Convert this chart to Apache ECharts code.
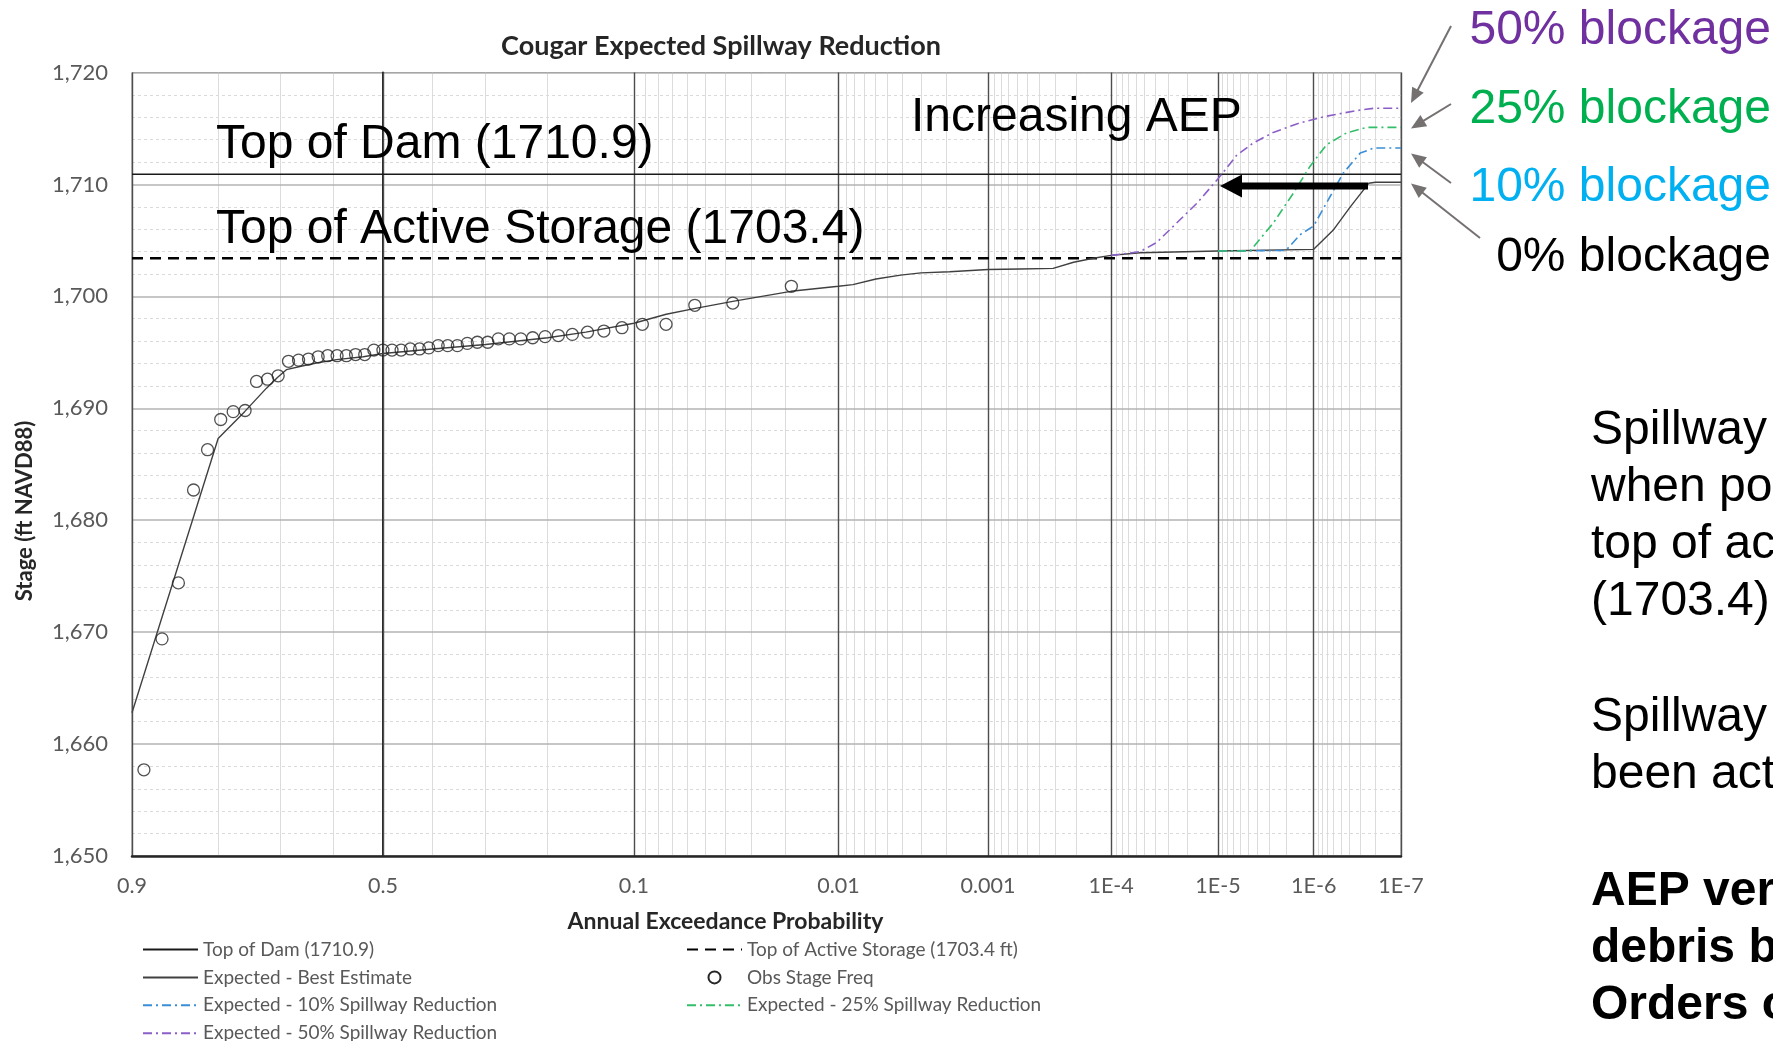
<!DOCTYPE html>
<html>
<head>
<meta charset="utf-8">
<title>Cougar Expected Spillway Reduction</title>
<script src="https://cdn.jsdelivr.net/npm/echarts@6/dist/echarts.min.js"></script>
<style>
  html, body { margin: 0; padding: 0; background: #ffffff; overflow: hidden; }
  #chart { width: 1773px; height: 1041px; }
</style>
</head>
<body>
<div id="chart"></div>
<script>
// ---- Axis definitions ----------------------------------------------------
const aepTicks = [0.9, 0.5, 0.1, 0.01, 0.001, 1e-4, 1e-5, 1e-6, 1e-7];
const aepTickLabels = ['0.9', '0.5', '0.1', '0.01', '0.001', '1E-4', '1E-5', '1E-6', '1E-7'];
const stageMin = 1650;
const stageMax = 1720;
const stageStep = 10;

// ---- Reference elevations (ft NAVD88) -------------------------------------
const topOfDam = 1710.9;
const topActiveStorage = 1703.4;

// ---- Expected stage-frequency curve, best estimate -----------------------
const bestAep = [0.9, 0.8, 0.76, 0.724, 0.704, 0.689, 0.658, 0.633, 0.594, 0.54,
  0.5, 0.4, 0.3, 0.2, 0.15, 0.1, 0.074, 0.056, 0.037, 0.0186,
  0.01, 0.0082, 0.0059, 0.0041, 0.003, 0.0019, 0.001, 5.7e-4, 3.1e-4, 2.1e-4,
  1.43e-4, 1e-4, 5.5e-5, 1e-5, 1e-6, 6.1e-7, 3.9e-7, 2.4e-7, 2e-7, 1e-7];
const bestStage = [1662.8, 1687.3, 1689.7, 1691.8, 1692.8, 1693.45, 1693.8, 1694.05, 1694.35, 1694.6,
  1694.9, 1695.3, 1695.7, 1696.3, 1696.8, 1697.6, 1698.4, 1698.9, 1699.55, 1700.45,
  1700.9, 1701.05, 1701.55, 1701.9, 1702.1, 1702.2, 1702.4, 1702.45, 1702.5, 1703.05,
  1703.4, 1703.66, 1703.9, 1704.05, 1704.2, 1705.9, 1708.0, 1710.1, 1710.2, 1710.2];

// ---- Spillway reduction scenarios ----------------------------------------
const red10Aep = [1e-5, 2e-6, 1.41e-6, 1e-6, 6.6e-7, 4.7e-7, 3e-7, 2.1e-7, 1e-7];
const red10Stage = [1704.05, 1704.1, 1705.5, 1706.3, 1708.9, 1711.0, 1712.8, 1713.25, 1713.25];

const red25Aep = [1e-5, 4.75e-6, 2.72e-6, 1.67e-6, 1.1e-6, 7.2e-7, 4.3e-7, 2.53e-7, 1e-7];
const red25Stage = [1704.05, 1704.05, 1706.55, 1709.2, 1711.6, 1713.55, 1714.6, 1715.1, 1715.1];

const red50Aep = [1e-4, 5.5e-5, 3.9e-5, 2.72e-5, 1.62e-5, 1e-5, 6.5e-6, 4.4e-6, 2.72e-6, 1.41e-6, 7.2e-7, 3.3e-7, 2.1e-7, 1e-7];
const red50Stage = [1703.66, 1704.0, 1704.8, 1706.25, 1708.3, 1710.5, 1712.6, 1713.7, 1714.65, 1715.5, 1716.1, 1716.6, 1716.8, 1716.8];

// ---- Observed annual peak stages (Weibull plotting positions) -------------
const obsAep = [0.8889, 0.8704, 0.8519, 0.8333, 0.8148, 0.7963, 0.7778, 0.7593, 0.7407, 0.7222,
  0.7037, 0.6852, 0.6667, 0.6481, 0.6296, 0.6111, 0.5926, 0.5741, 0.5556, 0.5370,
  0.5185, 0.5000, 0.4815, 0.4630, 0.4444, 0.4259, 0.4074, 0.3889, 0.3704, 0.3519,
  0.3333, 0.3148, 0.2963, 0.2778, 0.2593, 0.2407, 0.2222, 0.2037, 0.1852, 0.1667,
  0.1481, 0.1296, 0.1111, 0.0926, 0.0741, 0.0556, 0.0370, 0.0185];
const obsStage = [1657.7, 1669.4, 1674.4, 1682.7, 1686.3, 1689.0, 1689.7, 1689.8, 1692.4, 1692.6,
  1692.9, 1694.2, 1694.3, 1694.4, 1694.6, 1694.7, 1694.7, 1694.7, 1694.8, 1694.8,
  1695.2, 1695.2, 1695.2, 1695.2, 1695.3, 1695.3, 1695.4, 1695.6, 1695.6, 1695.6,
  1695.8, 1695.9, 1695.9, 1696.2, 1696.2, 1696.2, 1696.3, 1696.4, 1696.5, 1696.6,
  1696.8, 1696.9, 1697.2, 1697.5, 1697.5, 1699.2, 1699.4, 1700.9];

// ---- Normal probability scale --------------------------------------------
// Inverse standard normal CDF (Acklam's rational approximation).
function normInv(p) {
  const a = [-3.969683028665376e+01, 2.209460984245205e+02, -2.759285104469687e+02,
    1.383577518672690e+02, -3.066479806614716e+01, 2.506628277459239e+00];
  const b = [-5.447609879822406e+01, 1.615858368580409e+02, -1.556989798598866e+02,
    6.680131188771972e+01, -1.328068155288572e+01];
  const c = [-7.784894002430293e-03, -3.223964580411365e-01, -2.400758277161838e+00,
    -2.549732539343734e+00, 4.374664141464968e+00, 2.938163982698783e+00];
  const d = [7.784695709041462e-03, 3.224671290700398e-01, 2.445134137142996e+00,
    3.754408661907416e+00];
  const pLow = 0.02425;
  if (p < pLow) {
    const q = Math.sqrt(-2 * Math.log(p));
    return (((((c[0] * q + c[1]) * q + c[2]) * q + c[3]) * q + c[4]) * q + c[5]) /
      ((((d[0] * q + d[1]) * q + d[2]) * q + d[3]) * q + 1);
  }
  if (p <= 1 - pLow) {
    const q = p - 0.5, r = q * q;
    return (((((a[0] * r + a[1]) * r + a[2]) * r + a[3]) * r + a[4]) * r + a[5]) * q /
      (((((b[0] * r + b[1]) * r + b[2]) * r + b[3]) * r + b[4]) * r + 1);
  }
  const q = Math.sqrt(-2 * Math.log(1 - p));
  return -(((((c[0] * q + c[1]) * q + c[2]) * q + c[3]) * q + c[4]) * q + c[5]) /
    ((((d[0] * q + d[1]) * q + d[2]) * q + d[3]) * q + 1);
}
// Exceedance probability -> standard normal variate (rarer events to the right)
const aepToZ = p => -normInv(p);
const toXY = (aeps, stages) => aeps.map((p, i) => [aepToZ(p), stages[i]]);

const zMin = aepToZ(aepTicks[0]);
const zMax = aepToZ(aepTicks[aepTicks.length - 1]);
const majorZ = aepTicks.map(aepToZ);

// light gridlines at 0.8..0.6, 0.4..0.2 and 2-9 within each lower decade
const minorZ = [0.8, 0.7, 0.6, 0.4, 0.3, 0.2].map(aepToZ);
for (let e = 2; e <= 7; e++) {
  for (let m = 2; m <= 9; m++) minorZ.push(aepToZ(m * Math.pow(10, -e)));
}

function tickLabelFor(v) {
  for (let i = 0; i < majorZ.length; i++) {
    if (Math.abs(majorZ[i] - v) < 1e-6) return aepTickLabels[i];
  }
  return '';
}

// ---- Slide annotations -----------------------------------------------------
const ARIAL = '"Liberation Sans", Arial, sans-serif';
const CHART_FONT = 'Lato, "Open Sans", sans-serif';
const SLIDE_SIZE = 48;

function txt(str, x, y, size, opt) {
  opt = opt || {};
  return {
    type: 'text', x: x, y: y, z: 100, silent: true,
    rotation: opt.rotation || 0,
    style: {
      text: str,
      fontFamily: opt.family || ARIAL,
      fontSize: size,
      fontWeight: opt.weight || 'normal',
      fill: opt.color || '#000000',
      align: opt.align || 'left',
      verticalAlign: 'middle'
    }
  };
}

function arrow(x1, y1, x2, y2, color, width, headLen, headHalf) {
  const dx = x2 - x1, dy = y2 - y1, len = Math.hypot(dx, dy);
  const ux = dx / len, uy = dy / len;
  const bx = x2 - ux * headLen, by = y2 - uy * headLen;
  return [
    { type: 'line', z: 100, silent: true, shape: { x1: x1, y1: y1, x2: bx + ux, y2: by + uy },
      style: { stroke: color, lineWidth: width } },
    { type: 'polygon', z: 100, silent: true,
      shape: { points: [[x2, y2], [bx - uy * headHalf, by + ux * headHalf], [bx + uy * headHalf, by - ux * headHalf]] },
      style: { fill: color } }
  ];
}

const ARROW_GRAY = '#767171';
const graphics = [
  txt('Stage (ft NAVD88)', 25, 511, 22, { family: CHART_FONT, weight: 'bold', color: '#262626', align: 'center', rotation: Math.PI / 2 }),
  txt('Top of Dam (1710.9)', 216, 145, SLIDE_SIZE),
  txt('Top of Active Storage (1703.4)', 216, 229.5, SLIDE_SIZE),
  txt('Increasing AEP', 911, 117.5, SLIDE_SIZE),
  txt('50% blockage', 1771, 30.5, SLIDE_SIZE, { align: 'right', color: '#7030A0' }),
  txt('25% blockage', 1771, 109.5, SLIDE_SIZE, { align: 'right', color: '#00B050' }),
  txt('10% blockage', 1771, 188, SLIDE_SIZE, { align: 'right', color: '#00B0F0' }),
  txt('0% blockage', 1771, 257.3, SLIDE_SIZE, { align: 'right', color: '#000000' }),
  txt('Spillway blockage', 1591, 431, SLIDE_SIZE),
  txt('when pool exceeds', 1591, 488, SLIDE_SIZE),
  txt('top of active storage', 1591, 545, SLIDE_SIZE),
  txt('(1703.4).', 1591, 602, SLIDE_SIZE),
  txt('Spillway has never', 1591, 718, SLIDE_SIZE),
  txt('been activated', 1591, 775, SLIDE_SIZE),
  txt('AEP very sensitive to', 1591, 892, SLIDE_SIZE, { weight: 'bold' }),
  txt('debris blockage', 1591, 949, SLIDE_SIZE, { weight: 'bold' }),
  txt('Orders of magnitude', 1591, 1006, SLIDE_SIZE, { weight: 'bold' })
]
  .concat(arrow(1368, 186, 1220, 186, '#000000', 7, 22, 11.5))
  .concat(arrow(1451, 26, 1411, 103, ARROW_GRAY, 2, 15, 6.5))
  .concat(arrow(1451, 104, 1411, 128.5, ARROW_GRAY, 2, 15, 6.5))
  .concat(arrow(1451, 183, 1411, 153.5, ARROW_GRAY, 2, 15, 6.5))
  .concat(arrow(1480, 238, 1411, 183.5, ARROW_GRAY, 2, 15, 6.5));

// ---- Chart -----------------------------------------------------------------
const DASH_DOT = [9, 4, 2, 4];
const lineBase = { type: 'line', symbol: 'none', showSymbol: false, z: 5, clip: true, animation: false };

const legendCommon = {
  orient: 'vertical', top: 940, height: 240, padding: 0,
  itemWidth: 55, itemHeight: 12, itemGap: 8.9,
  // line entries show only their stroke; the scatter entry re-enables its marker
  itemStyle: { opacity: 0 },
  textStyle: { fontFamily: CHART_FONT, fontSize: 19, color: '#595959', lineHeight: 16 }
};

const chart = echarts.init(document.getElementById('chart'), null, { renderer: 'canvas' });
chart.setOption({
  animation: false,
  backgroundColor: '#ffffff',
  textStyle: { fontFamily: CHART_FONT },
  title: {
    text: 'Cougar Expected Spillway Reduction',
    left: 716, top: 28, textAlign: 'center',
    textStyle: { fontFamily: CHART_FONT, fontSize: 27, fontWeight: 'bold', color: '#262626' }
  },
  grid: {
    left: 132, right: 372, top: 72.5, bottom: 185,
    outerBoundsMode: 'none',
    show: true, borderColor: '#808080', borderWidth: 1, backgroundColor: 'transparent'
  },
  legend: [
    Object.assign({}, legendCommon, {
      left: 142,
      data: ['Top of Dam (1710.9)', 'Expected - Best Estimate',
        'Expected - 10% Spillway Reduction', 'Expected - 50% Spillway Reduction']
    }),
    Object.assign({}, legendCommon, {
      left: 686,
      data: ['Top of Active Storage (1703.4 ft)',
        { name: 'Obs Stage Freq', itemStyle: { opacity: 1 } },
        'Expected - 25% Spillway Reduction']
    })
  ],
  xAxis: [
    {
      type: 'value', min: zMin, max: zMax, position: 'bottom', z: 2,
      name: 'Annual Exceedance Probability',
      nameLocation: 'middle', nameGap: 54,
      nameTextStyle: { fontFamily: CHART_FONT, fontSize: 23, fontWeight: 'bold', color: '#262626', padding: [0, 82, 0, 0] },
      axisLine: { show: true, onZero: false, lineStyle: { color: '#262626', width: 2.5 } },
      axisTick: { show: false, customValues: majorZ },
      axisLabel: { customValues: majorZ, formatter: tickLabelFor, margin: 19,
        fontFamily: CHART_FONT, fontSize: 21.5, color: '#595959' },
      splitLine: { show: true, lineStyle: { color: '#4d4d4d', width: 1.4 } }
    },
    {
      type: 'value', min: zMin, max: zMax, position: 'bottom', z: 0,
      axisLine: { show: false },
      axisTick: { show: false, customValues: minorZ },
      axisLabel: { show: false, customValues: minorZ },
      splitLine: { show: true, lineStyle: { color: '#dcdcdc', width: 1 } }
    }
  ],
  yAxis: {
    type: 'value', min: stageMin, max: stageMax, interval: stageStep, z: 1,
    axisLine: { show: true, lineStyle: { color: '#262626', width: 2 } },
    axisTick: { show: false },
    axisLabel: { margin: 24, fontFamily: CHART_FONT, fontSize: 22, color: '#595959',
      formatter: v => v.toLocaleString('en-US') },
    splitLine: { show: true, lineStyle: { color: '#b3b3b3', width: 1.5 } },
    minorTick: { show: false, splitNumber: 5 },
    minorSplitLine: { show: true, lineStyle: { color: '#dadada', width: 1, type: [3, 3] } }
  },
  series: [
    Object.assign({}, lineBase, {
      name: 'Top of Dam (1710.9)',
      data: [[zMin, topOfDam], [zMax, topOfDam]],
      lineStyle: { color: '#1a1a1a', width: 1.5 }, itemStyle: { color: '#1a1a1a' }
    }),
    Object.assign({}, lineBase, {
      name: 'Top of Active Storage (1703.4 ft)',
      data: [[zMin, topActiveStorage], [zMax, topActiveStorage]],
      lineStyle: { color: '#000000', width: 2.6, type: [11, 7] }, itemStyle: { color: '#000000' }
    }),
    Object.assign({}, lineBase, {
      name: 'Expected - Best Estimate',
      data: toXY(bestAep, bestStage),
      lineStyle: { color: '#404040', width: 1.4 }, itemStyle: { color: '#404040' }
    }),
    {
      name: 'Obs Stage Freq', type: 'scatter', z: 5, animation: false,
      data: toXY(obsAep, obsStage),
      symbol: 'circle', symbolSize: 12,
      itemStyle: { color: 'rgba(255,255,255,0)', borderColor: '#262626', borderWidth: 1.3 }
    },
    Object.assign({}, lineBase, {
      name: 'Expected - 10% Spillway Reduction',
      data: toXY(red10Aep, red10Stage),
      lineStyle: { color: '#3A8ED8', width: 1.6, type: DASH_DOT }, itemStyle: { color: '#3A8ED8' }
    }),
    Object.assign({}, lineBase, {
      name: 'Expected - 25% Spillway Reduction',
      data: toXY(red25Aep, red25Stage),
      lineStyle: { color: '#33BE6A', width: 1.6, type: DASH_DOT }, itemStyle: { color: '#33BE6A' }
    }),
    Object.assign({}, lineBase, {
      name: 'Expected - 50% Spillway Reduction',
      data: toXY(red50Aep, red50Stage),
      lineStyle: { color: '#8B5FC7', width: 1.6, type: DASH_DOT }, itemStyle: { color: '#8B5FC7' }
    })
  ],
  graphic: graphics
});
</script>
</body>
</html>
